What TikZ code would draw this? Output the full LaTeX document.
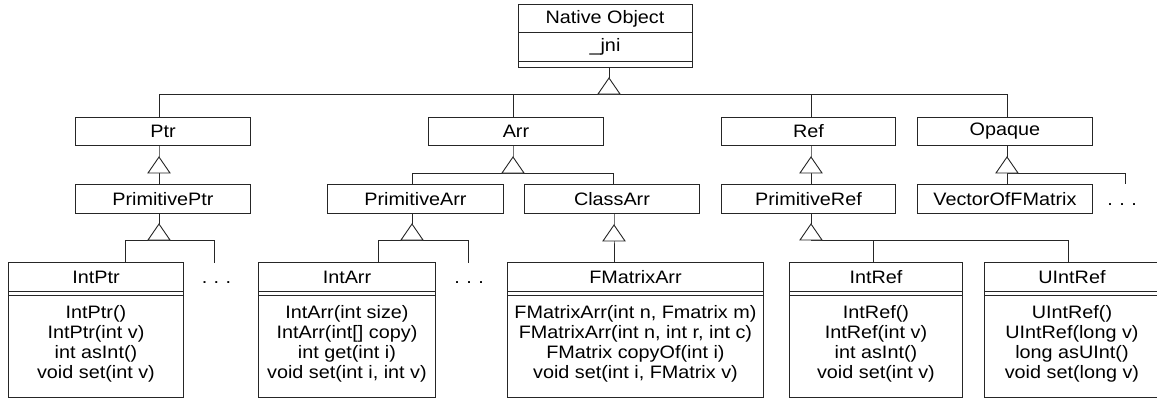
\documentclass[tikz,border=0pt]{standalone}
\usepackage{fontspec}
\setmainfont{Liberation Sans}[FakeStretch=1.1]
\tikzset{
  ln/.style={draw=black!85, line width=0.9pt},
  txt/.style={inner sep=0pt, font=\fontsize{18pt}{20pt}\selectfont, text=black},
  box/.style={ln, txt, rectangle, anchor=north west},
  ops/.style={txt, align=center},
  gen/.style={ln, fill=white},
  tri/.pic={\draw[gen] (0,0) -- (-11,16) -- (11,16) -- cycle;}
}
\newcommand\umlclass[6]{%
  \node[box, minimum width=#4pt, minimum height=135pt] (#1) at (#2,#3) {};
  \node[txt] (#1t) at ([yshift=-15pt]#1.north) {#5};
  \draw[ln] ([yshift=-29pt]#1.north west) -- ([yshift=-29pt]#1.north east);
  \draw[ln] ([yshift=-33pt]#1.north west) -- ([yshift=-33pt]#1.north east);
  \node[ops] (#1o) at ([yshift=-82pt]#1.north) {#6};
}
\begin{document}
\begin{tikzpicture}[x=1pt,y=-1pt]
\useasboundingbox (0,0) rectangle (1157,400);

% root
\node[box, minimum width=174pt, minimum height=63pt] (native) at (518,4) {};
\node[txt] (nativet) at (605,18.5) {Native Object};
\draw[ln] ([yshift=-28pt]native.north west) -- ([yshift=-28pt]native.north east);
\node[txt] (nativea) at (605,47) {\_jni};
\draw[ln] ([yshift=-57.5pt]native.north west) -- ([yshift=-57.5pt]native.north east);

% level 2
\node[box, minimum width=175pt, minimum height=28pt] (ptr) at (75,117) {Ptr};
\node[box, minimum width=175pt, minimum height=28pt] (arr) at (428,117) {Arr};
\node[box, minimum width=174pt, minimum height=28pt] (ref) at (721,117) {Ref};
\node[box, minimum width=175pt, minimum height=28pt] (opaque) at (917,117) {Opaque};

% level 3
\node[box, minimum width=175pt, minimum height=29pt] (primptr) at (75,184) {PrimitivePtr};
\node[box, minimum width=176pt, minimum height=29pt] (primarr) at (327,184) {PrimitiveArr};
\node[box, minimum width=175pt, minimum height=29pt] (classarr) at (524,184) {ClassArr};
\node[box, minimum width=174pt, minimum height=29pt] (primref) at (721,184) {PrimitiveRef};
\node[box, minimum width=175pt, minimum height=29pt] (vecfm) at (917,184) {VectorOfFMatrix};

% level 4
\umlclass{intptr}{8}{262}{175}{IntPtr}{IntPtr()\\IntPtr(int v)\\int asInt()\\void set(int v)}
\umlclass{intarr}{258}{262}{177}{IntArr}{IntArr(int size)\\IntArr(int[] copy)\\int get(int i)\\void set(int i, int v)}
\umlclass{fmarr}{507}{262}{256}{FMatrixArr}{FMatrixArr(int n, Fmatrix m)\\FMatrixArr(int n, int r, int c)\\FMatrix copyOf(int i)\\void set(int i, FMatrix v)}
\umlclass{intref}{789}{262}{173}{IntRef}{IntRef()\\IntRef(int v)\\int asInt()\\void set(int v)}
\umlclass{uintref}{984}{262}{175}{UIntRef}{UIntRef()\\UIntRef(long v)\\long asUInt()\\void set(long v)}

% ellipses
\node[txt, anchor=base] (dots1) at (216.5,283.5) {.\hspace{6.5pt}.\hspace{6.5pt}.};
\node[txt, anchor=base] (dots2) at (469,283.5) {.\hspace{6.5pt}.\hspace{6.5pt}.};
\node[txt, anchor=base] (dots3) at (1122,205.5) {.\hspace{6.5pt}.\hspace{6.5pt}.};

% root generalization
\coordinate (tn) at (609,78);
\draw[ln] (tn |- native.south) -- (tn);
\draw[ln] ([xshift=-3.5pt]ptr.north) |- ([xshift=2.5pt]opaque.north |- 0,94) -- ([xshift=2.5pt]opaque.north);
\draw[ln] ([xshift=-2.5pt]arr.north) -- ++(0,-23);
\draw[ln] ([xshift=3pt]ref.north) -- ++(0,-23);
\pic at (tn) {tri};

% Ptr -> PrimitivePtr
\coordinate (tp) at (159,157);
\draw[ln] (tp |- ptr.south) -- (tp) -- (tp |- primptr.north);
\pic at (tp) {tri};

% Arr -> PrimitiveArr, ClassArr
\coordinate (ta) at (513,157);
\draw[ln] (ta |- arr.south) -- (ta) -- ++(0,16);
\draw[ln] ([xshift=-3pt]primarr.north) |- ([xshift=1.5pt]classarr.north |- 0,173) -- ([xshift=1.5pt]classarr.north);
\pic at (ta) {tri};

% Ref -> PrimitiveRef
\coordinate (tr) at (811,157);
\draw[ln] (tr |- ref.south) -- (tr) -- (tr |- primref.north);
\pic at (tr) {tri};

% Opaque -> VectorOfFMatrix, ...
\coordinate (to) at (1007,157);
\coordinate (oe) at (1125,184);
\draw[ln] (to |- opaque.south) -- (to) -- (to |- vecfm.north);
\draw[ln] (1007,173) -| (oe);
\pic at (to) {tri};

% PrimitivePtr -> IntPtr, ...
\coordinate (tpp) at (159,224);
\coordinate (ppe) at (214,263);
\draw[ln] (tpp |- primptr.south) -- (tpp);
\draw[ln] (intptr.north -| 125,0) |- (ppe |- 0,240) -- (ppe);
\pic at (tpp) {tri};

% PrimitiveArr -> IntArr, ...
\coordinate (tpa) at (412,224);
\coordinate (pae) at (468,263);
\draw[ln] (tpa |- primarr.south) -- (tpa);
\draw[ln] (intarr.north -| 378,0) |- (pae |- 0,240) -- (pae);
\pic at (tpa) {tri};

% ClassArr -> FMatrixArr
\coordinate (tca) at (614,225);
\draw[ln] (tca |- classarr.south) -- (tca) -- (tca |- fmarr.north);
\pic at (tca) {tri};

% PrimitiveRef -> IntRef, UIntRef
\coordinate (tpr) at (811,224);
\draw[ln] (tpr |- primref.south) -- (tpr);
\draw[ln] (811,240) -| (uintref.north -| 1068,0);
\draw[ln] (intref.north -| 873,0) -- (873,240);
\pic at (tpr) {tri};
\end{tikzpicture}
\end{document}
